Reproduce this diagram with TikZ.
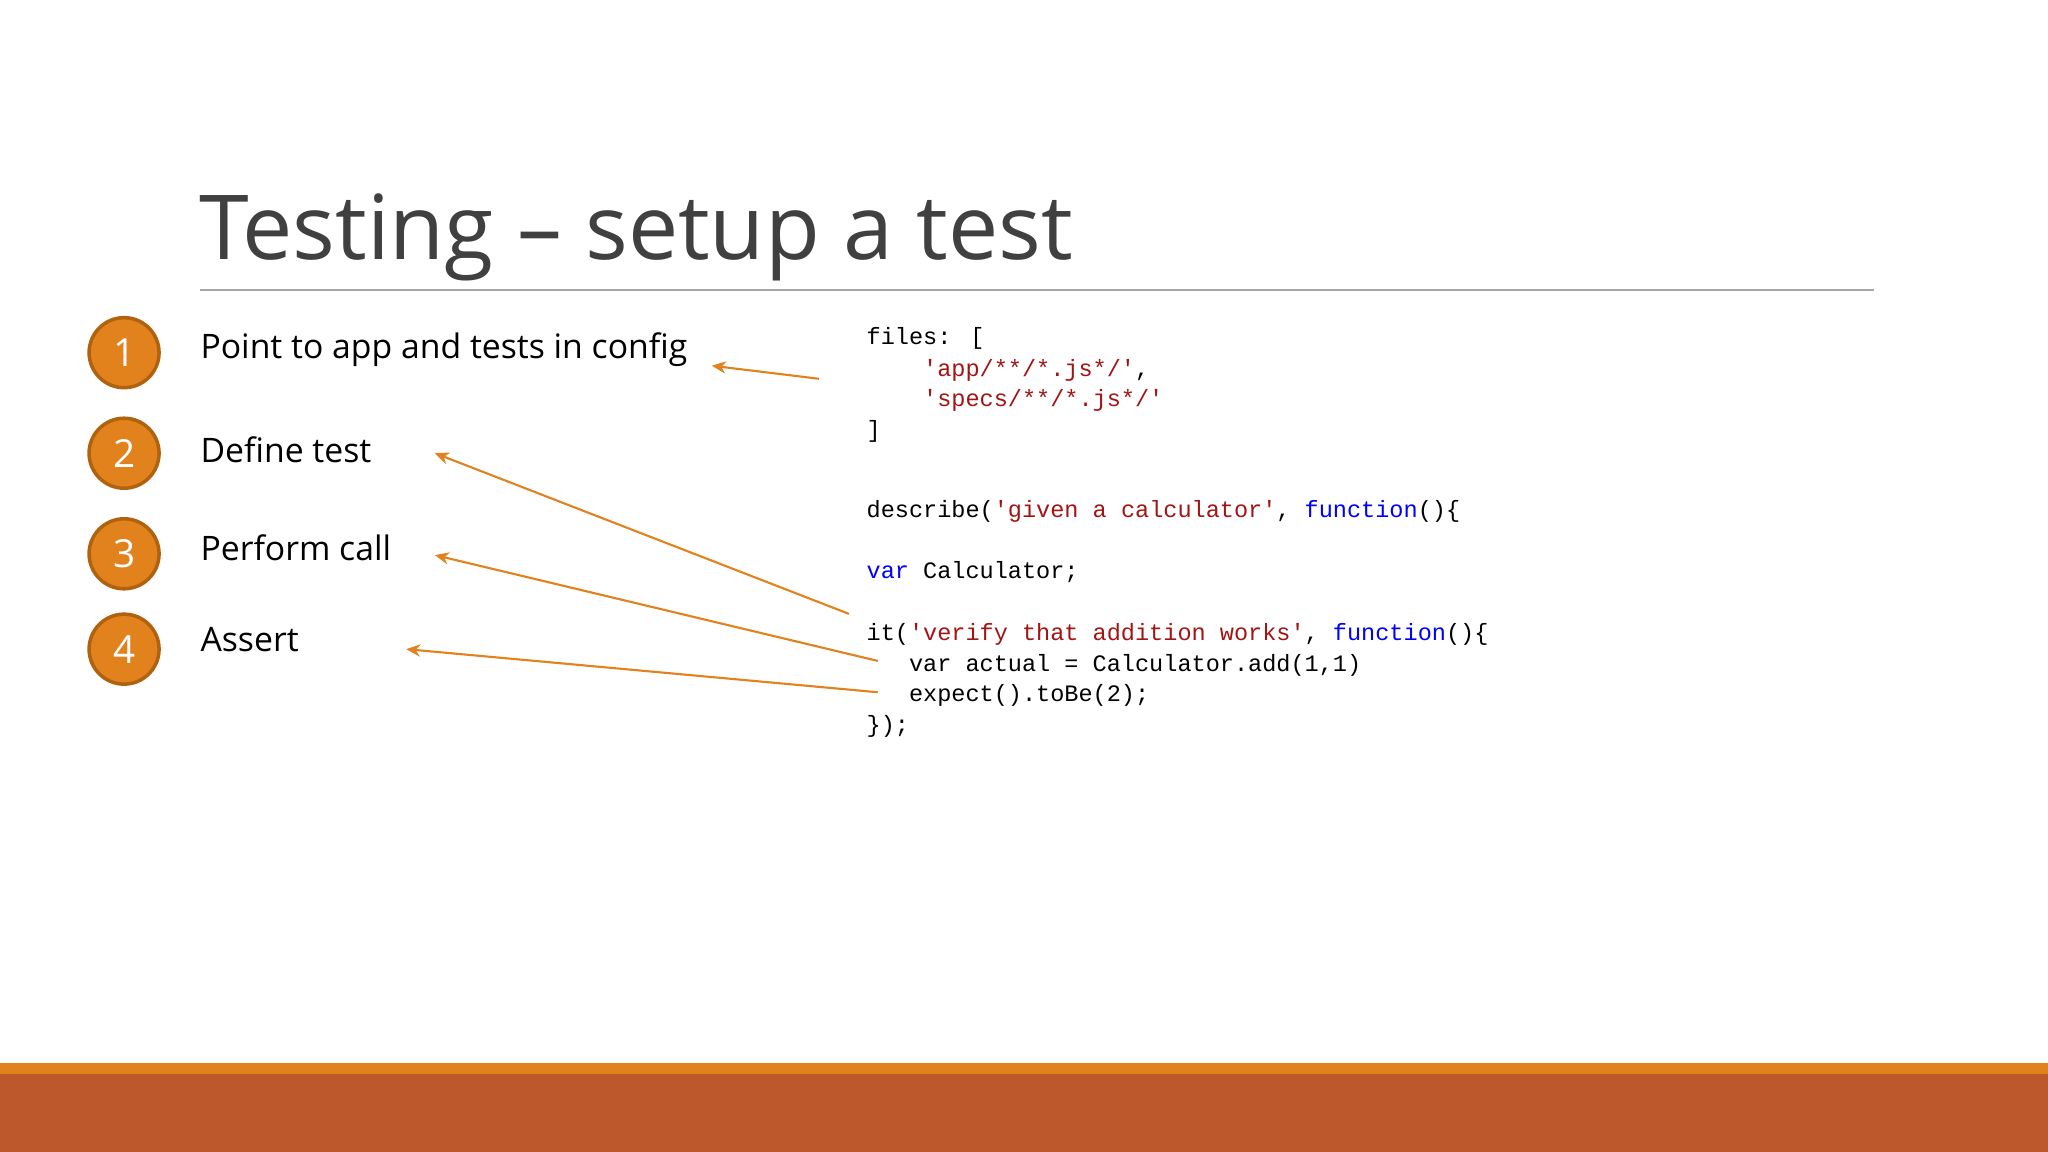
\documentclass[tikz,border=0pt]{standalone}
\usepackage{fontspec}
\setmainfont{Open Sans}
\newfontfamily\codefont{Liberation Mono}
\usetikzlibrary{arrows.meta}
\definecolor{circfill}{HTML}{E2821C}
\definecolor{circline}{HTML}{B0620F}
\definecolor{rust}{HTML}{BD582C}
\definecolor{stripe}{HTML}{E2821C}
\definecolor{titlegray}{HTML}{404040}
\definecolor{strred}{HTML}{A31515}
\definecolor{kwblue}{HTML}{0000FF}
\tikzset{
  num/.style={circle,fill=circfill,draw=circline,line width=1pt,minimum size=0.7cm,text=white,font=\fontsize{11}{13}\selectfont},
  bullet/.style={anchor=west,font=\fontsize{9.6}{12}\selectfont,text=black,inner sep=0},
  code/.style={anchor=base west,font=\codefont\fontsize{6.7}{8.7}\selectfont,inner sep=0},
  pointer/.style={draw=circfill,line width=0.6pt,-{Stealth[length=4pt,width=3.5pt]}}
}
\begin{document}
\begin{tikzpicture}[x=0.01306cm,y=-0.01306cm]
\useasboundingbox (0,0) rectangle (1568,882);
\fill[white] (0,0) rectangle (1568,882);
\fill[stripe] (0,814) rectangle (1568,823);
\fill[rust] (0,822) rectangle (1568,882);
\node[anchor=base west,inner sep=0,text=titlegray,font=\fontsize{25.5}{30}\selectfont] (title) at (152,199) {Testing – setup a test};
\draw[gray!70,line width=0.6pt] (153,222) -- (1435,222);
\node[num] (n1) at (95,270) {1};
\node[num] (n2) at (95,347) {2};
\node[num] (n3) at (95,424) {3};
\node[num] (n4) at (95,497) {4};
\node[bullet] (b1) at (153,268) {Point to app and tests in config};
\node[bullet] (b2) at (153,344) {Define test};
\node[bullet] (b3) at (153,419) {Perform call};
\node[bullet] (b4) at (153,490) {Assert};
\node[code] (c1) at (663,264) {files: [};
\node[code] (c2) at (663,288) {\color{strred}\ \ \ \ 'app/**/*.js*/'\color{black},};
\node[code] (c3) at (663,311) {\color{strred}\ \ \ \ 'specs/**/*.js*/'};
\node[code] (c4) at (663,335) {]};
\node[code] (c5) at (663,396) {describe(\textcolor{strred}{'given a calculator'}, \textcolor{kwblue}{function}()\{};
\node[code] (c6) at (663,443) {\textcolor{kwblue}{var} Calculator;};
\node[code] (c7) at (663,490) {it(\textcolor{strred}{'verify that addition works'}, \textcolor{kwblue}{function}()\{};
\node[code] (c8) at (663,514) {\ \ \ var actual = Calculator.add(1,1)};
\node[code] (c9) at (663,537) {\ \ \ expect().toBe(2);};
\node[code] (c10) at (663,561) {\});};
\coordinate (s1) at (627,290); \coordinate (e1) at (545,280);
\coordinate (s2) at (650,470); \coordinate (e2) at (333,347);
\coordinate (s3) at (672,506); \coordinate (e3) at (333,425);
\coordinate (s4) at (672,530); \coordinate (e4) at (311,497);
\draw[pointer] (s1) -- (e1);
\draw[pointer] (s2) -- (e2);
\draw[pointer] (s3) -- (e3);
\draw[pointer] (s4) -- (e4);
\end{tikzpicture}
\end{document}
